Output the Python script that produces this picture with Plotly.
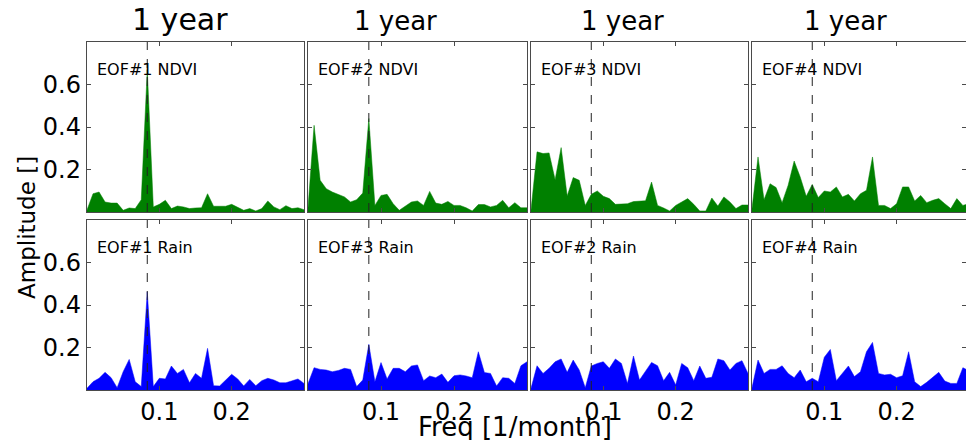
import plotly.graph_objects as go

# ---- data ----
freq = [k / 120 for k in range(37)]          # frequency bins [1/month]
one_year = 1 / 12

ndvi_eof1 = [0.01, 0.086, 0.094, 0.047, 0.042, 0.042, 0.008, 0.019, 0.016, 0.058,
             0.67, 0.024, 0.036, 0.055, 0.016, 0.028, 0.024, 0.016, 0.019, 0.02,
             0.086, 0.027, 0.027, 0.027, 0.036, 0.02, 0.008, 0.016, 0.005, 0.016,
             0.052, 0.024, 0.011, 0.03, 0.016, 0.02, 0.011]
ndvi_eof2 = [0.02, 0.408, 0.149, 0.11, 0.094, 0.083, 0.071, 0.047, 0.058, 0.089,
             0.44, 0.031, 0.078, 0.083, 0.039, 0.008, 0.028, 0.047, 0.052, 0.031,
             0.097, 0.042, 0.036, 0.05, 0.031, 0.031, 0.02, 0.005, 0.035, 0.035,
             0.024, 0.031, 0.055, 0.02, 0.044, 0.02, 0.02]
ndvi_eof3 = [0.01, 0.283, 0.275, 0.278, 0.152, 0.303, 0.075, 0.162, 0.149, 0.031,
             0.083, 0.099, 0.074, 0.063, 0.036, 0.036, 0.039, 0.049, 0.052, 0.053,
             0.141, 0.031, 0.019, 0.005, 0.031, 0.047, 0.063, 0.036, 0.005, 0.005,
             0.066, 0.028, 0.071, 0.047, 0.016, 0.033, 0.033]
ndvi_eof4 = [0.016, 0.259, 0.058, 0.133, 0.115, 0.044, 0.126, 0.24, 0.165, 0.074,
             0.13, 0.068, 0.099, 0.094, 0.118, 0.071, 0.083, 0.052, 0.086, 0.102,
             0.259, 0.031, 0.031, 0.016, 0.039, 0.118, 0.118, 0.052, 0.078, 0.044,
             0.055, 0.063, 0.039, 0.016, 0.063, 0.031, 0.04]
rain_eof1 = [0.008, 0.039, 0.055, 0.083, 0.058, 0.011, 0.086, 0.144, 0.039, 0.016,
             0.462, 0.016, 0.055, 0.052, 0.113, 0.078, 0.097, 0.034, 0.078, 0.055,
             0.196, 0.02, 0.019, 0.047, 0.074, 0.052, 0.019, 0.05, 0.02, 0.044,
             0.055, 0.047, 0.034, 0.034, 0.044, 0.052, 0.031]
rain_eof3 = [0.03, 0.105, 0.097, 0.094, 0.086, 0.092, 0.102, 0.097, 0.016, 0.047,
             0.215, 0.039, 0.129, 0.052, 0.102, 0.102, 0.086, 0.113, 0.118, 0.044,
             0.066, 0.058, 0.075, 0.036, 0.067, 0.071, 0.066, 0.058, 0.18, 0.082,
             0.078, 0.019, 0.058, 0.055, 0.031, 0.114, 0.133]
rain_eof2 = [0.008, 0.114, 0.078, 0.102, 0.133, 0.146, 0.083, 0.141, 0.094, 0.011,
             0.113, 0.125, 0.133, 0.102, 0.146, 0.125, 0.031, 0.16, 0.047, 0.086,
             0.13, 0.114, 0.044, 0.083, 0.024, 0.125, 0.105, 0.044, 0.113, 0.055,
             0.06, 0.146, 0.138, 0.094, 0.125, 0.138, 0.078]
rain_eof4 = [0.011, 0.141, 0.078, 0.097, 0.097, 0.114, 0.078, 0.058, 0.094, 0.039,
             0.055, 0.039, 0.154, 0.191, 0.044, 0.078, 0.113, 0.063, 0.086, 0.18,
             0.224, 0.078, 0.071, 0.074, 0.058, 0.067, 0.18, 0.039, 0.016, 0.036,
             0.058, 0.083, 0.042, 0.031, 0.031, 0.105, 0.09]

top_labels = ["EOF#1 NDVI", "EOF#2 NDVI", "EOF#3 NDVI", "EOF#4 NDVI"]
bottom_labels = ["EOF#1 Rain", "EOF#3 Rain", "EOF#2 Rain", "EOF#4 Rain"]
top_series = [ndvi_eof1, ndvi_eof2, ndvi_eof3, ndvi_eof4]
bottom_series = [rain_eof1, rain_eof3, rain_eof2, rain_eof4]
column_title = "1 year"
y_ticks = [0.2, 0.4, 0.6]
x_ticks = [0.1, 0.2]

# ---- layout geometry ----
W, H = 966, 440
col_px = [(87, 304), (308, 527), (531, 748), (752, 966)]
row_px = [(42, 212), (220, 390)]
x_ranges = [[0, 0.3], [0, 0.3], [0, 0.3], [0, 0.296]]

GREEN = "#008000"
BLUE = "#0000ff"
FONT = "DejaVu Sans"
FRAME = "#4a4a4a"

fig = go.Figure()
layout = dict(
    width=W, height=H, margin=dict(l=0, r=0, t=0, b=0),
    paper_bgcolor="white", plot_bgcolor="white", showlegend=False,
    font=dict(family=FONT, color="black"),
)
annotations = []
shapes = []

idx = 0
for r, (series_list, labels, color) in enumerate(
        [(top_series, top_labels, GREEN), (bottom_series, bottom_labels, BLUE)]):
    for c in range(4):
        idx += 1
        xa = "x" if idx == 1 else f"x{idx}"
        ya = "y" if idx == 1 else f"y{idx}"
        xk = "xaxis" if idx == 1 else f"xaxis{idx}"
        yk = "yaxis" if idx == 1 else f"yaxis{idx}"
        fig.add_trace(go.Scatter(
            x=freq, y=series_list[c], mode="lines",
            line=dict(color=color, width=0.5), fill="tozeroy",
            fillcolor=color, xaxis=xa, yaxis=ya, hoverinfo="skip"))
        x0, x1 = col_px[c]
        y0, y1 = row_px[r]
        layout[xk] = dict(
            domain=[x0 / W, x1 / W], range=x_ranges[c], anchor=ya,
            tickvals=x_ticks, ticktext=[f"{v:.1f}" for v in x_ticks],
            showticklabels=(r == 1), ticks="inside", ticklen=4,
            tickcolor=FRAME, showline=True, linecolor=FRAME, linewidth=1.2,
            mirror="ticks", showgrid=False, zeroline=False,
            tickfont=dict(size=24, family=FONT, color="black"))
        layout[yk] = dict(
            domain=[1 - y1 / H, 1 - y0 / H], range=[0, 0.8], anchor=xa,
            tickvals=y_ticks, ticktext=[f"{v:.1f}" for v in y_ticks],
            showticklabels=(c == 0), ticks="inside", ticklen=4,
            tickcolor=FRAME, showline=True, linecolor=FRAME, linewidth=1.2,
            mirror="ticks", showgrid=False, zeroline=False,
            tickfont=dict(size=24, family=FONT, color="black"))
        shapes.append(dict(
            type="line", xref=xa, yref=f"{ya} domain", x0=one_year, x1=one_year,
            y0=0, y1=1, line=dict(color="#222222", width=1, dash="dash")))
        annotations.append(dict(
            text=labels[c], xref=f"{xa} domain", yref=f"{ya} domain",
            x=8 / (x1 - x0), y=1 - 27 / (y1 - y0), xanchor="left",
            yanchor="middle", showarrow=False,
            font=dict(size=16, family=FONT, color="black")))

# column titles
title_centers = [180, 395, 622, 845]
title_sizes = [30, 26, 26, 26]
for cx, sz in zip(title_centers, title_sizes):
    annotations.append(dict(
        text=column_title, xref="paper", yref="paper", x=cx / W,
        y=1 - 32 / H, xanchor="center", yanchor="bottom", yshift=-sz * 0.22,
        showarrow=False, font=dict(size=sz, family=FONT, color="black")))

annotations.append(dict(
    text="Amplitude []", xref="paper", yref="paper", x=27 / W, y=1 - 228 / H,
    xanchor="center", yanchor="middle", textangle=-90, showarrow=False,
    font=dict(size=23, family=FONT, color="black")))
annotations.append(dict(
    text="Freq [1/month]", xref="paper", yref="paper", x=515 / W, y=1 - 427 / H,
    xanchor="center", yanchor="middle", showarrow=False,
    font=dict(size=26, family=FONT, color="black")))

layout["annotations"] = annotations
layout["shapes"] = shapes
fig.update_layout(**layout)
fig.write_html(
    "out.html",
    config={"displayModeBar": False, "staticPlot": True},
    post_script="document.body.style.margin='0px';document.body.style.overflow='hidden';",
)
